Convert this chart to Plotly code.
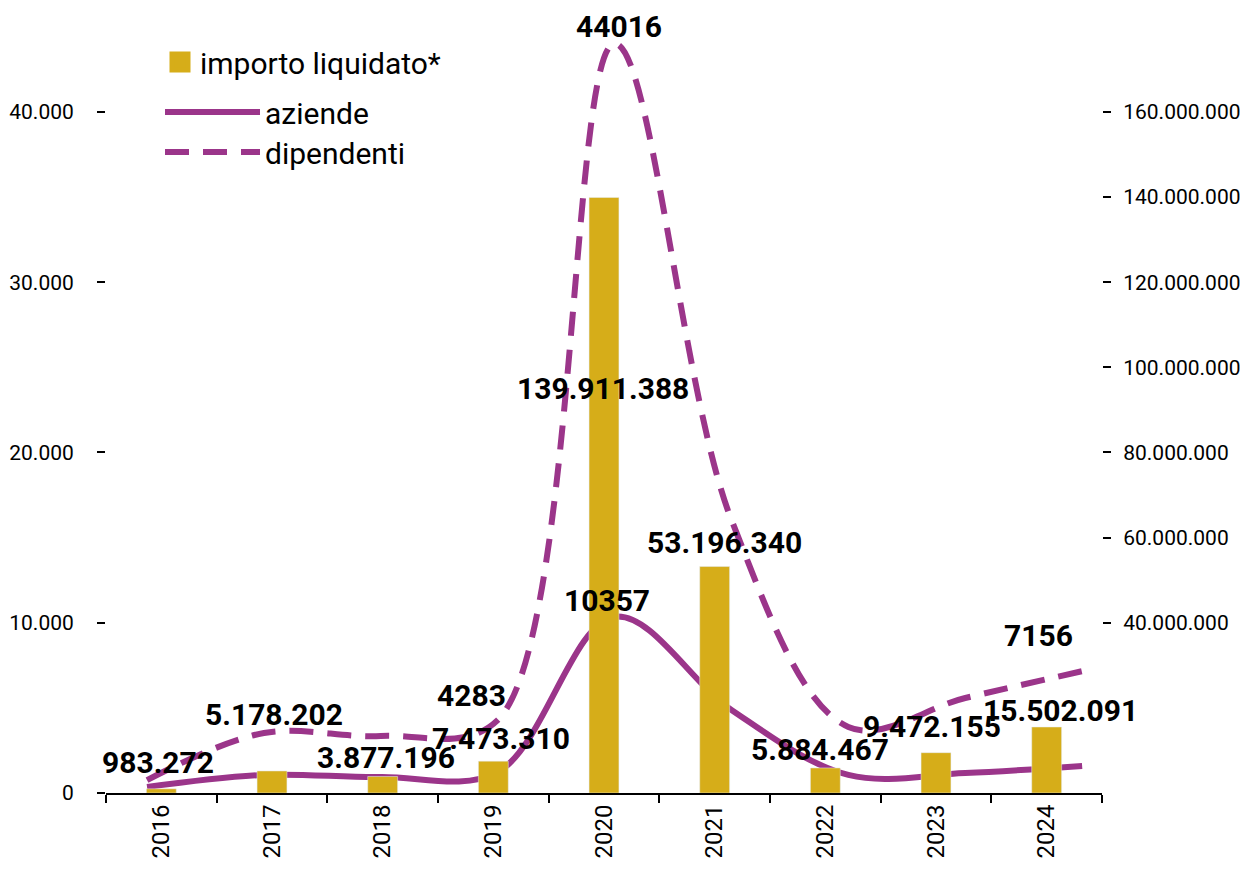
import plotly.graph_objects as go

# ---- data ----
years = ["2016", "2017", "2018", "2019", "2020", "2021", "2022", "2023", "2024"]
importo = [983272, 5178202, 3877196, 7473310, 139911388, 53196340, 5884467, 9472155, 15502091]
aziende = [350, 1060, 940, 1230, 10357, 4880, 1060, 1175, 1590]
dipendenti = [760, 3525, 3350, 4283, 44016, 16040, 3880, 5580, 7156]

left_ticks = [0, 10000, 20000, 30000, 40000]
right_ticks = [40000000, 60000000, 80000000, 100000000, 120000000, 140000000, 160000000]

# labels shown on lines: (series, year index)
line_labels = [("dipendenti", 3), ("dipendenti", 4), ("aziende", 4), ("dipendenti", 8)]

# ---- styling / placement (not data) ----
GOLD = "#D6AD19"
PURPLE = "#9B358A"
FONT = "Roboto, sans-serif"
bar_dx = [-3, 2, 3, 8, -1, 10, -5, -4, 14]
bar_dy = [26, 56, 19, 23, -191, 24, 18, 26, 17]
line_dx = [-26, 4, -8, -44]
line_dy = [25, 17, 16, 36]

LEFT_MAX = 45400
RATIO = 4000
OFF = 8  # page body margin


def it(v):
    return f"{v:,}".replace(",", ".")


fig = go.Figure()
# lines: main x / left y
fig.add_trace(go.Scatter(
    x=years, y=aziende, name="aziende", mode="lines",
    line=dict(color=PURPLE, width=6, shape="spline", smoothing=1),
    xaxis="x", yaxis="y", legend="legend2",
))
fig.add_trace(go.Scatter(
    x=years, y=dipendenti, name="dipendenti", mode="lines",
    line=dict(color=PURPLE, width=6, shape="spline", smoothing=1, dash="24px,14px"),
    xaxis="x", yaxis="y", legend="legend3",
))
# bars: category axis x2 / right y2
fig.add_trace(go.Bar(
    x=years, y=importo, name="importo liquidato*", marker=dict(color=GOLD),
    width=0.27, xaxis="x2", yaxis="y2", showlegend=False,
))
# legend entry for the bars (larger square swatch)
fig.add_trace(go.Scatter(
    x=[None], y=[None], name="importo liquidato*", mode="markers",
    marker=dict(symbol="square", size=16, color=GOLD, line=dict(color=GOLD, width=5)),
    xaxis="x2", yaxis="y2", legend="legend",
))

annotations = []
for i, v in enumerate(importo):
    annotations.append(dict(
        x=i, y=v, xref="x2", yref="y2", text="<b>" + it(v) + "</b>", showarrow=False,
        xshift=bar_dx[i], yshift=bar_dy[i],
        font=dict(family=FONT, size=30, color="black"),
    ))
series = {"aziende": aziende, "dipendenti": dipendenti}
for k, (name, idx) in enumerate(line_labels):
    v = series[name][idx]
    annotations.append(dict(
        x=idx, y=v, xref="x", yref="y", text="<b>" + str(v) + "</b>", showarrow=False,
        xshift=line_dx[k], yshift=line_dy[k],
        font=dict(family=FONT, size=30, color="black"),
    ))

tickfont = dict(family=FONT, size=21, color="black")
legfont = dict(family=FONT, size=30, color="black")

fig.update_layout(
    width=1249, height=869,
    margin=dict(l=106 - OFF, r=147 + OFF, t=20 - OFF, b=76 + OFF),
    paper_bgcolor="white", plot_bgcolor="white",
    separators=",.",
    font=dict(family=FONT, color="black"),
    xaxis=dict(
        type="category", categoryorder="array", categoryarray=years,
        range=[-0.351, 8.17], visible=False, fixedrange=True,
    ),
    xaxis2=dict(
        type="category", categoryorder="array", categoryarray=years,
        overlaying="x", anchor="y", side="bottom",
        range=[-0.5, 8.5], tickson="boundaries", ticks="outside", ticklen=8, tickwidth=2,
        tickcolor="black", showline=True, linecolor="black", linewidth=2,
        tickangle=-90, tickfont=dict(family=FONT, size=24, color="black"),
        showgrid=False, zeroline=False, fixedrange=True, automargin=False,
    ),
    yaxis=dict(
        range=[0, LEFT_MAX], tickvals=left_ticks, ticktext=[it(t) for t in left_ticks],
        ticks="outside", ticklen=8, tickwidth=2, tickcolor="black",
        ticklabelstandoff=19, tickfont=tickfont, automargin=False,
        showline=False, showgrid=False, zeroline=False, fixedrange=True,
    ),
    yaxis2=dict(
        overlaying="y", side="right", anchor="x", range=[0, LEFT_MAX * RATIO],
        tickvals=right_ticks, ticktext=[it(t) for t in right_ticks],
        ticks="outside", ticklen=8, tickwidth=2, tickcolor="black",
        ticklabelstandoff=8, tickfont=tickfont, automargin=False,
        showline=False, showgrid=False, zeroline=False, fixedrange=True,
    ),
    legend=dict(x=(160 - 106) / 996, y=(793 - 62) / 773, xanchor="left", yanchor="middle",
                font=legfont, itemwidth=30, bgcolor="rgba(0,0,0,0)"),
    legend2=dict(x=(160 - 106) / 996, y=(793 - 112) / 773, xanchor="left", yanchor="middle",
                 font=legfont, itemwidth=95, bgcolor="rgba(0,0,0,0)"),
    legend3=dict(x=(160 - 106) / 996, y=(793 - 152) / 773, xanchor="left", yanchor="middle",
                 font=legfont, itemwidth=95, bgcolor="rgba(0,0,0,0)"),
    annotations=annotations,
    showlegend=True,
)

fig.write_html("out.html")
